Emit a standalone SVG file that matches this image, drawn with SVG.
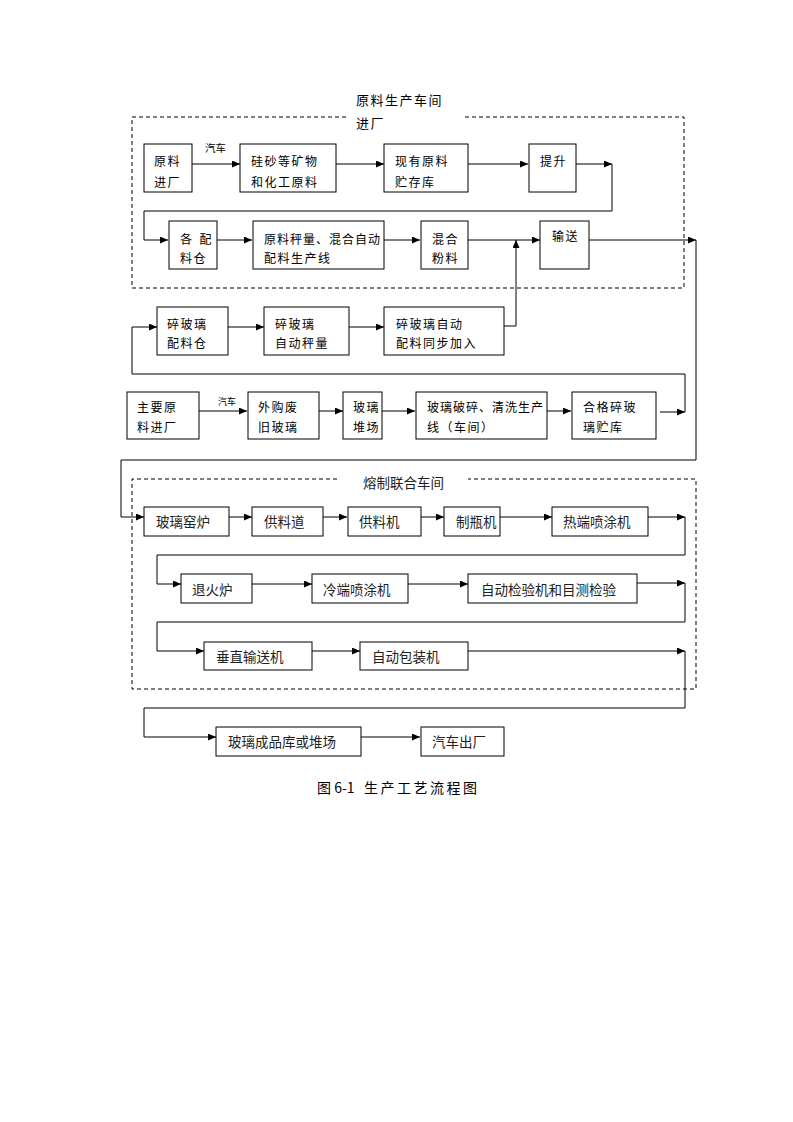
<svg xmlns="http://www.w3.org/2000/svg" width="793" height="1122" viewBox="0 0 793 1122">
<style>
.b{fill:#fff;stroke:#000;stroke-width:1}
.t{font-family:"Noto Sans CJK SC","Noto Sans",sans-serif;font-size:12px;letter-spacing:1.5px;fill:#000}
.s{font-family:"Noto Sans CJK SC","Noto Sans",sans-serif;font-size:13.5px;fill:#222}
.c{fill:none;stroke:#000;stroke-width:1}
.d{fill:none;stroke:#000;stroke-width:1;stroke-dasharray:4,3}
.l{font-family:"Noto Sans CJK SC","Noto Sans",sans-serif;font-size:10.5px;fill:#000}
</style>
<defs>
<marker id="a" markerUnits="userSpaceOnUse" markerWidth="9" markerHeight="7" refX="8" refY="3.5" orient="auto"><path d="M0,0 L8,3.5 L0,7 z" fill="#000"/></marker>
</defs>
<rect width="793" height="1122" fill="#fff"/>
<g id="regions">
<path class="d" d="M346,117 H132 V288 H684 V117 H464"/>
<text class="t" x="356" y="105" style="font-size:13px">原料生产车间</text>
<text class="t" x="356" y="128" style="font-size:13px">进厂</text>
<path class="d" d="M337,479 H132 V689 H696 V479 H468"/>
<text class="s" x="363" y="488">熔制联合车间</text>
</g>
<g id="connectors">
<path class="c" marker-end="url(#a)" d="M192,164 H240"/>
<text class="l" x="205" y="152">汽车</text>
<path class="c" marker-end="url(#a)" d="M336,164 H384"/>
<path class="c" marker-end="url(#a)" d="M468,164 H528"/>
<path class="c" marker-end="url(#a)" d="M576,164 H612"/>
<path class="c" marker-end="url(#a)" d="M612,164 V211 H144 V240 H168"/>
<path class="c" marker-end="url(#a)" d="M217,240 H252"/>
<path class="c" marker-end="url(#a)" d="M384,240 H420"/>
<path class="c" marker-end="url(#a)" d="M468,240 H540"/>
<path class="c" marker-end="url(#a)" d="M504,326 H516 V240"/>
<path class="c" marker-end="url(#a)" d="M589,240 H696"/>
<path class="c" marker-end="url(#a)" d="M696,240 V460 H121 V517 H144"/>
<path class="c" marker-end="url(#a)" d="M228,327 H264"/>
<path class="c" marker-end="url(#a)" d="M349,327 H384"/>
<path class="c" marker-end="url(#a)" d="M199,411 H247"/>
<text class="l" x="218" y="405" style="font-size:9px">汽车</text>
<path class="c" marker-end="url(#a)" d="M319,411 H343"/>
<path class="c" marker-end="url(#a)" d="M382,411 H415"/>
<path class="c" marker-end="url(#a)" d="M547,411 H571"/>
<path class="c" marker-end="url(#a)" d="M660,412 H685"/>
<path class="c" marker-end="url(#a)" d="M685,412 V374 H132 V327 H157"/>
<path class="c" marker-end="url(#a)" d="M229,517 H252"/>
<path class="c" marker-end="url(#a)" d="M323,517 H347"/>
<path class="c" marker-end="url(#a)" d="M421,517 H444"/>
<path class="c" marker-end="url(#a)" d="M500,517 H552"/>
<path class="c" marker-end="url(#a)" d="M648,517 H685"/>
<path class="c" marker-end="url(#a)" d="M685,517 V555 H157 V584 H181"/>
<path class="c" marker-end="url(#a)" d="M252,584 H312"/>
<path class="c" marker-end="url(#a)" d="M408,584 H468"/>
<path class="c" marker-end="url(#a)" d="M637,583 H685"/>
<path class="c" marker-end="url(#a)" d="M685,583 V622 H157 V651 H204"/>
<path class="c" marker-end="url(#a)" d="M312,651 H360"/>
<path class="c" marker-end="url(#a)" d="M468,651 H685"/>
<path class="c" marker-end="url(#a)" d="M685,651 V708 H144 V737 H216"/>
<path class="c" marker-end="url(#a)" d="M361,737 H420"/>
</g>
<g id="n1"><rect class="b" x="144" y="144" width="48" height="48"/><text class="t" x="154" y="166">原料</text><text class="t" x="154" y="187">进厂</text></g>
<g id="n2"><rect class="b" x="240" y="144" width="96" height="48"/><text class="t" x="251" y="166">硅砂等矿物</text><text class="t" x="251" y="187">和化工原料</text></g>
<g id="n3"><rect class="b" x="384" y="144" width="84" height="48"/><text class="t" x="395" y="166">现有原料</text><text class="t" x="395" y="187">贮存库</text></g>
<g id="n4"><rect class="b" x="529" y="144" width="47" height="48"/><text class="t" x="540" y="166">提升</text></g>
<g id="n5"><rect class="b" x="169" y="221" width="48" height="48"/><text class="t" x="180" y="244">各<tspan dx="6">配</tspan></text><text class="t" x="180" y="263">料仓</text></g>
<g id="n6"><rect class="b" x="253" y="221" width="131" height="48"/><text class="t" x="264" y="244" style="letter-spacing:1px">原料秤量、混合自动</text><text class="t" x="264" y="263">配料生产线</text></g>
<g id="n7"><rect class="b" x="421" y="221" width="47" height="48"/><text class="t" x="432" y="244">混合</text><text class="t" x="432" y="263">粉料</text></g>
<g id="n8"><rect class="b" x="540" y="221" width="49" height="48"/><text class="t" x="552" y="241">输送</text></g>
<g id="n9"><rect class="b" x="157" y="307" width="71" height="48"/><text class="t" x="167" y="329">碎玻璃</text><text class="t" x="167" y="348">配料仓</text></g>
<g id="n10"><rect class="b" x="264" y="307" width="85" height="48"/><text class="t" x="275" y="329">碎玻璃</text><text class="t" x="275" y="348">自动秤量</text></g>
<g id="n11"><rect class="b" x="384" y="307" width="120" height="48"/><text class="t" x="396" y="329">碎玻璃自动</text><text class="t" x="396" y="348">配料同步加入</text></g>
<g id="n12"><rect class="b" x="127" y="392" width="72" height="47"/><text class="t" x="137" y="412">主要原</text><text class="t" x="137" y="432">料进厂</text></g>
<g id="n13"><rect class="b" x="248" y="392" width="71" height="47"/><text class="t" x="258" y="412">外购废</text><text class="t" x="258" y="432">旧玻璃</text></g>
<g id="n14"><rect class="b" x="343" y="392" width="39" height="47"/><text class="t" x="353" y="412">玻璃</text><text class="t" x="353" y="432">堆场</text></g>
<g id="n15"><rect class="b" x="416" y="392" width="131" height="47"/><text class="t" x="427" y="412" style="letter-spacing:1px">玻璃破碎、清洗生产</text><text class="t" x="427" y="432">线（车间）</text></g>
<g id="n16"><rect class="b" x="572" y="392" width="84" height="47"/><text class="t" x="583" y="412">合格碎玻</text><text class="t" x="583" y="432">璃贮库</text></g>
<g id="n17"><rect class="b" x="144" y="507" width="85" height="29"/><text class="s" x="156" y="527">玻璃窑炉</text></g>
<g id="n18"><rect class="b" x="252" y="507" width="71" height="29"/><text class="s" x="264" y="527">供料道</text></g>
<g id="n19"><rect class="b" x="348" y="507" width="73" height="29"/><text class="s" x="359" y="527">供料机</text></g>
<g id="n20"><rect class="b" x="444" y="507" width="56" height="29"/><text class="s" x="456" y="527">制瓶机</text></g>
<g id="n21"><rect class="b" x="552" y="507" width="96" height="29"/><text class="s" x="563" y="527">热端喷涂机</text></g>
<g id="n22"><rect class="b" x="181" y="574" width="71" height="29"/><text class="s" x="192" y="595">退火炉</text></g>
<g id="n23"><rect class="b" x="312" y="574" width="96" height="29"/><text class="s" x="323" y="595">冷端喷涂机</text></g>
<g id="n24"><rect class="b" x="468" y="574" width="169" height="29"/><text class="s" x="481" y="595">自动检验机和目测检验</text></g>
<g id="n25"><rect class="b" x="204" y="642" width="108" height="28"/><text class="s" x="216" y="662">垂直输送机</text></g>
<g id="n26"><rect class="b" x="360" y="642" width="108" height="28"/><text class="s" x="372" y="662">自动包装机</text></g>
<g id="n27"><rect class="b" x="216" y="727" width="145" height="29"/><text class="s" x="228" y="747">玻璃成品库或堆场</text></g>
<g id="n28"><rect class="b" x="421" y="727" width="83" height="29"/><text class="s" x="432" y="747">汽车出厂</text></g>
<text y="793" style="font-family:'Noto Sans CJK SC','Noto Sans',sans-serif;font-size:14px;fill:#000"><tspan x="317">图 6-1</tspan><tspan x="364" style="letter-spacing:2.5px">生产工艺流程图</tspan></text>
</svg>
